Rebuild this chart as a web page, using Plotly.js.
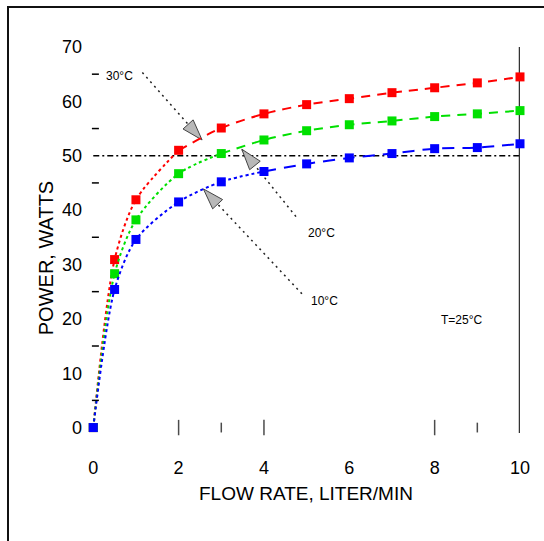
<!DOCTYPE html>
<html>
<head>
<meta charset="utf-8">
<script src="https://cdn.plot.ly/plotly-3.0.1.min.js"></script>
<style>
html,body{margin:0;padding:0;overflow:hidden;background:#fff;}
#wrap{position:relative;width:544px;height:541px;overflow:hidden;}
#chart{width:544px;height:541px;}
#frame{position:absolute;left:7px;top:6px;width:700px;height:700px;border:2px solid #111;pointer-events:none;}
</style>
</head>
<body>
<div id="wrap"><div id="chart"></div><div id="frame"></div></div>
<script>
// ---- data ----
const flowRate = [0, 0.5, 1, 2, 3, 4, 5, 6, 7, 8, 9, 10];
const powerRed   = [0, 30.9, 41.9, 51.0, 55.1, 57.7, 59.4, 60.5, 61.6, 62.5, 63.4, 64.5];
const powerGreen = [0, 28.3, 38.2, 46.7, 50.4, 52.9, 54.6, 55.7, 56.4, 57.2, 57.7, 58.3];
const powerBlue  = [0, 25.4, 34.6, 41.5, 45.2, 47.1, 48.5, 49.6, 50.4, 51.3, 51.5, 52.2];
const seriesColors = ['#ff0000', '#00e000', '#0000ff'];
const dottedUpTo = [2, 3, 4];

const refPower = [50, 50];
const refFlow = [0, 10];
const rightLineFlow = [10, 10];
const rightLinePower = [-1, 70];

const xTickVals = [0, 2, 4, 6, 8, 10];
const yTickVals = [0, 10, 20, 30, 40, 50, 60, 70];
const yMinorTicks = [5, 15, 25, 35, 45, 55, 65];
const xMinorTicks = [2, 3, 4, 8, 9];
const xMinorSizes = [11, 7, 11, 11, 7];

const calloutText = ['30°C', '20°C', '10°C'];
const calloutTextX = [0.62, 5.34, 5.41];
const calloutTextY = [64.7, 35.7, 23.2];
const arrowStartX = [1.15, 4.75, 4.89];
const arrowStartY = [65.3, 38.8, 24.6];
const arrowTipX = [2.55, 3.48, 2.58];
const arrowTipY = [52.9, 51.2, 43.9];
const arrowAngle = [138, -39, -43];

const noteText = 'T=25°C';
const noteX = 8.64, noteY = 19.7;

const FONT = 'Liberation Sans, Arial, sans-serif';
const traces = [];

// reference line at 50 W
traces.push({x: refFlow, y: refPower, mode: 'lines', line: {color: '#000', width: 1.6, dash: '6px,3px,2px,3px'}, hoverinfo: 'skip'});
// right vertical line
traces.push({x: rightLineFlow, y: rightLinePower, mode: 'lines', line: {color: '#333', width: 2.5}, hoverinfo: 'skip'});

// callout dotted lines
for (let i = 0; i < calloutText.length; i++) {
  traces.push({x: [arrowStartX[i], arrowTipX[i]], y: [arrowStartY[i], arrowTipY[i]], mode: 'lines',
    line: {color: '#222', width: 1.5, dash: '2px,4px'}, hoverinfo: 'skip'});
}
// arrowheads
traces.push({x: arrowTipX, y: arrowTipY, mode: 'markers',
  marker: {symbol: 'arrow', size: 22, angle: arrowAngle, color: '#b8b8b8', line: {color: '#444', width: 1}},
  hoverinfo: 'skip'});

// series
const allPower = [powerRed, powerGreen, powerBlue];
allPower.forEach((p, s) => {
  const xa = [], ya = [], xb = [], yb = [];
  flowRate.forEach((f, k) => {
    if (f <= dottedUpTo[s]) { xa.push(f); ya.push(p[k]); }
    if (f >= dottedUpTo[s]) { xb.push(f); yb.push(p[k]); }
  });
  traces.push({x: xa, y: ya, mode: 'lines', line: {color: seriesColors[s], width: 2, dash: 'dot', shape: 'spline', smoothing: 0.8}, hoverinfo: 'skip'});
  traces.push({x: xb, y: yb, mode: 'lines', line: {color: seriesColors[s], width: 2, dash: s === 2 ? '12px,8px' : '9px,7px', shape: 'spline', smoothing: 0.8}, hoverinfo: 'skip'});
  traces.push({x: flowRate, y: p, mode: 'markers', marker: {symbol: 'square', size: 9, color: seriesColors[s]}, cliponaxis: false});
});

// minor ticks
traces.push({x: yMinorTicks.map(() => 0.05), y: yMinorTicks, mode: 'markers',
  marker: {symbol: 'line-ew', size: 5, line: {color: '#000', width: 1.5}}, hoverinfo: 'skip', cliponaxis: false});
traces.push({x: xMinorTicks, y: xMinorTicks.map(() => 0), mode: 'markers',
  marker: {symbol: 'line-ns', size: xMinorSizes, line: {color: '#000', width: 1.5}}, hoverinfo: 'skip', cliponaxis: false});

const annotations = [];
for (let i = 0; i < calloutText.length; i++) {
  annotations.push({x: calloutTextX[i], y: calloutTextY[i], xref: 'x', yref: 'y', text: calloutText[i],
    showarrow: false, font: {family: FONT, size: 12, color: '#000'}});
}
annotations.push({x: noteX, y: noteY, xref: 'x', yref: 'y', text: noteText, showarrow: false,
  font: {family: FONT, size: 12, color: '#000'}});
annotations.push({x: -0.101, y: 0.454, xref: 'paper', yref: 'paper', text: 'POWER, WATTS', textangle: -90,
  showarrow: false, xanchor: 'center', yanchor: 'middle', font: {family: FONT, size: 20, color: '#000'}});
annotations.push({x: 0.504, y: -0.157, xref: 'paper', yref: 'paper', text: 'FLOW RATE, LITER/MIN',
  showarrow: false, xanchor: 'center', yanchor: 'middle', font: {family: FONT, size: 19, color: '#000'}});

const layout = {
  width: 544, height: 541,
  margin: {l: 88.7, r: 24, t: 47, b: 107.6, pad: 0},
  paper_bgcolor: '#fff', plot_bgcolor: '#fff',
  showlegend: false,
  xaxis: {range: [-0.1, 10], tickvals: xTickVals, ticktext: xTickVals.map(String), showgrid: false, zeroline: false,
    showline: false, ticks: '', ticklabelstandoff: 22, tickfont: {family: FONT, size: 18, color: '#000'}},
  yaxis: {range: [-1, 70], tickvals: yTickVals, ticktext: yTickVals.map(String), showgrid: false, zeroline: false,
    showline: false, ticks: '', ticklabelstandoff: 6, tickfont: {family: FONT, size: 18, color: '#000'}},
  annotations: annotations
};

Plotly.newPlot('chart', traces, layout, {staticPlot: true});
</script>
</body>
</html>
